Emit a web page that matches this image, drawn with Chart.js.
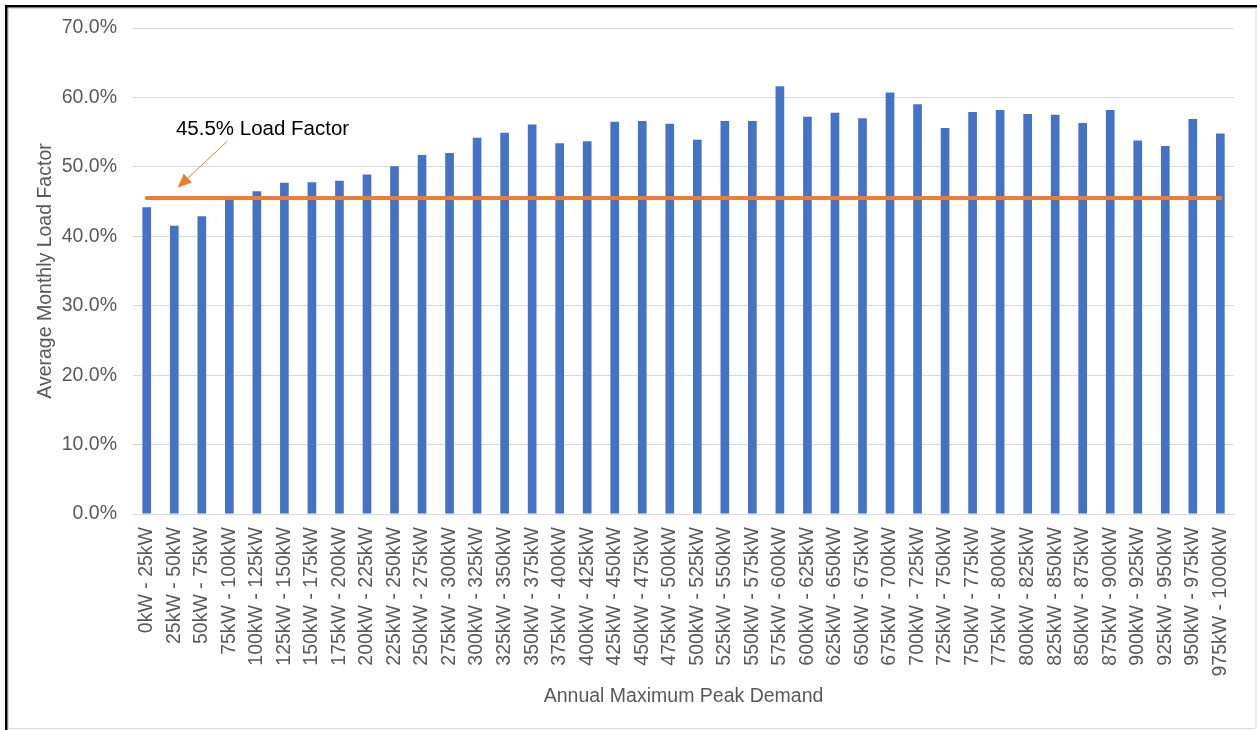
<!DOCTYPE html>
<html>
<head>
<meta charset="utf-8">
<title>Average Monthly Load Factor</title>
<script src="https://cdn.jsdelivr.net/npm/chart.js@4.4.0/dist/chart.umd.min.js"></script>
<style>
  html, body { margin: 0; padding: 0; background: #ffffff; }
  #wrap { position: relative; width: 1257px; height: 730px; }
  canvas { display: block; }
</style>
</head>
<body>
<div id="wrap"><canvas id="chart" width="1257" height="730"></canvas></div>
<script>
// Demand bands (annual maximum peak demand)
const categories = [
  '0kW - 25kW', '25kW - 50kW', '50kW - 75kW', '75kW - 100kW', '100kW - 125kW',
  '125kW - 150kW', '150kW - 175kW', '175kW - 200kW', '200kW - 225kW', '225kW - 250kW',
  '250kW - 275kW', '275kW - 300kW', '300kW - 325kW', '325kW - 350kW', '350kW - 375kW',
  '375kW - 400kW', '400kW - 425kW', '425kW - 450kW', '450kW - 475kW', '475kW - 500kW',
  '500kW - 525kW', '525kW - 550kW', '550kW - 575kW', '575kW - 600kW', '600kW - 625kW',
  '625kW - 650kW', '650kW - 675kW', '675kW - 700kW', '700kW - 725kW', '725kW - 750kW',
  '750kW - 775kW', '775kW - 800kW', '800kW - 825kW', '825kW - 850kW', '850kW - 875kW',
  '875kW - 900kW', '900kW - 925kW', '925kW - 950kW', '950kW - 975kW', '975kW - 1000kW'
];

// Average monthly load factor per band, in percent
const avgLoadFactor = [
  44.2, 41.5, 42.9, 45.3, 46.5, 47.7, 47.8, 48.0, 48.9, 50.1,
  51.7, 52.0, 54.2, 54.9, 56.1, 53.4, 53.7, 56.5, 56.6, 56.2,
  53.9, 56.6, 56.6, 61.6, 57.2, 57.8, 57.0, 60.7, 59.0, 55.6,
  57.9, 58.2, 57.6, 57.5, 56.3, 58.2, 53.8, 53.0, 56.9, 54.8
];

// Overall reference load factor, in percent
const referenceLoadFactor = 45.5;
const referenceLine = [
  { x: categories[0], y: referenceLoadFactor },
  { x: categories[categories.length - 1], y: referenceLoadFactor }
];

// Y axis tick values, in percent
const yTickValues = [0, 10, 20, 30, 40, 50, 60, 70];

// Callout for the reference line, in data units (category index, percent)
const callout = {
  text: '45.5% Load Factor',
  textAt: { index: 1.06, value: 55.45 },
  arrowFrom: { index: 2.93, value: 53.7 },
  arrowTo: { index: 1.12, value: 47.0 }
};

const FONT = "'Liberation Sans', Arial, Helvetica, sans-serif";
const TEXT_GREY = '#595959';
const GRID_GREY = '#D9D9D9';
const BLUE = '#4472C4';
const ORANGE = '#ED7D31';

// White background plus the outer frame
const framePlugin = {
  id: 'frame',
  beforeDraw(chart) {
    const c = chart.ctx;
    c.save();
    c.fillStyle = '#ffffff';
    c.fillRect(0, 0, chart.width, chart.height);
    c.restore();
  },
  afterDraw(chart) {
    const c = chart.ctx;
    const w = chart.width, h = chart.height;
    c.save();
    c.fillStyle = '#000000';
    c.fillRect(5, 5, 2.5, h - 5);
    c.fillRect(5, 5, w - 5, 2.5);
    c.fillStyle = GRID_GREY;
    c.fillRect(8, 8, 1, h - 10);
    c.fillRect(8, 8, w - 10, 1);
    c.fillRect(w - 1.5, 8, 1, h - 10);
    c.fillRect(8, h - 2, w - 10, 1);
    c.restore();
  }
};

// Text label with an arrow pointing at the reference line
const calloutPlugin = {
  id: 'callout',
  afterDatasetsDraw(chart) {
    const xs = chart.scales.x, ys = chart.scales.y;
    const px = p => [xs.getPixelForValue(p.index), ys.getPixelForValue(p.value)];
    const c = chart.ctx;
    c.save();
    const [tx, ty] = px(callout.textAt);
    c.font = '20.5px ' + FONT;
    c.fillStyle = '#000000';
    c.textAlign = 'left';
    c.textBaseline = 'middle';
    c.fillText(callout.text, tx, ty);

    const [x1, y1] = px(callout.arrowFrom);
    const [x2, y2] = px(callout.arrowTo);
    const ang = Math.atan2(y2 - y1, x2 - x1);
    const headLen = 14, headHalf = 6;
    const bx = x2 - headLen * Math.cos(ang), by = y2 - headLen * Math.sin(ang);
    c.strokeStyle = ORANGE;
    c.lineWidth = 1;
    c.beginPath();
    c.moveTo(x1, y1);
    c.lineTo(bx, by);
    c.stroke();
    c.fillStyle = ORANGE;
    c.beginPath();
    c.moveTo(x2, y2);
    c.lineTo(bx + headHalf * Math.sin(ang), by - headHalf * Math.cos(ang));
    c.lineTo(bx - headHalf * Math.sin(ang), by + headHalf * Math.cos(ang));
    c.closePath();
    c.fill();
    c.restore();
  }
};

new Chart(document.getElementById('chart'), {
  type: 'bar',
  data: {
    labels: categories,
    datasets: [
      {
        type: 'line',
        label: '45.5% Load Factor',
        data: referenceLine,
        borderColor: ORANGE,
        borderWidth: 4,
        borderCapStyle: 'round',
        pointRadius: 0,
        fill: false,
        order: 0
      },
      {
        type: 'bar',
        label: 'Average Monthly Load Factor',
        data: avgLoadFactor,
        backgroundColor: BLUE,
        borderWidth: 0,
        barPercentage: 0.315,
        categoryPercentage: 1,
        order: 1
      }
    ]
  },
  options: {
    responsive: false,
    animation: false,
    devicePixelRatio: 1,
    layout: { padding: { top: 28, right: 21, bottom: 0, left: 0 } },
    plugins: {
      legend: { display: false },
      tooltip: { enabled: false }
    },
    scales: {
      x: {
        grid: { display: false, drawTicks: false },
        border: { color: GRID_GREY, width: 1 },
        ticks: {
          autoSkip: false,
          minRotation: 90,
          maxRotation: 90,
          padding: 13,
          color: TEXT_GREY,
          font: { family: FONT, size: 19.5 }
        },
        title: {
          display: true,
          text: 'Annual Maximum Peak Demand',
          color: TEXT_GREY,
          font: { family: FONT, size: 19.5 },
          padding: { top: 0, bottom: 22 }
        },
        afterFit(scale) { scale.height = 216; }
      },
      y: {
        min: yTickValues[0],
        max: yTickValues[yTickValues.length - 1],
        afterBuildTicks(scale) { scale.ticks = yTickValues.map(v => ({ value: v })); },
        ticks: {
          padding: 16,
          color: TEXT_GREY,
          font: { family: FONT, size: 19.5 },
          callback: v => Number(v).toFixed(1) + '%'
        },
        grid: { color: GRID_GREY, lineWidth: 1, drawTicks: false },
        border: { display: false },
        title: {
          display: true,
          text: 'Average Monthly Load Factor',
          color: TEXT_GREY,
          font: { family: FONT, size: 19.5 },
          padding: { top: 34, bottom: 0 }
        },
        afterFit(scale) { scale.width = 133; }
      }
    }
  },
  plugins: [framePlugin, calloutPlugin]
});
</script>
</body>
</html>
